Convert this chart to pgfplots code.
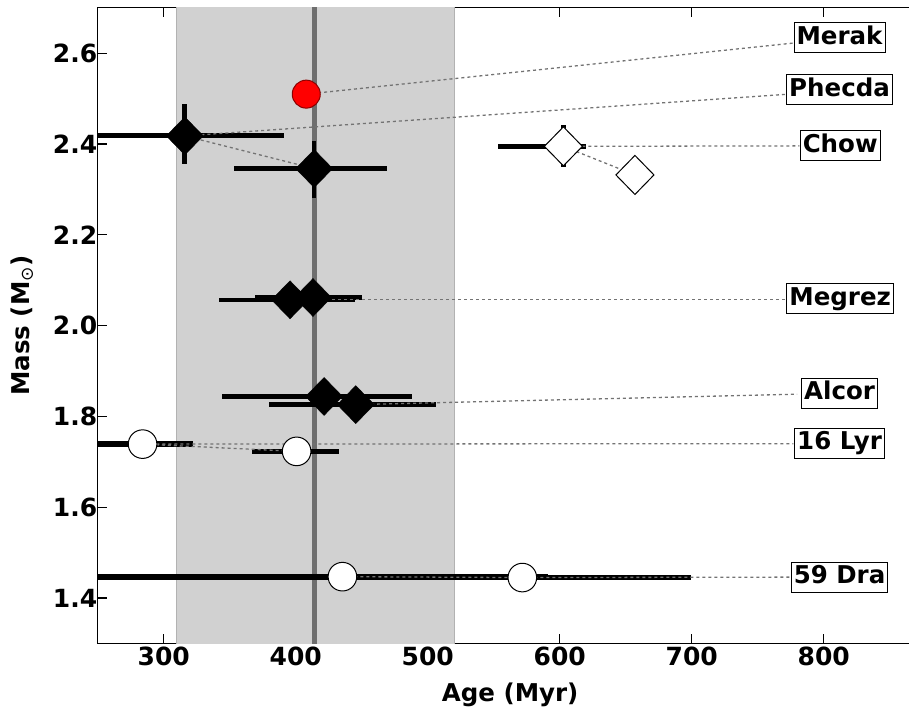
\documentclass[border=0pt]{standalone}
\usepackage{fontspec}
\setmainfont{DejaVu Sans}
\newfontfamily\djv{DejaVu Sans}
\usepackage{pgfplots}
\pgfplotsset{compat=1.18}
\pgfplotsset{
  xe/.style={only marks, mark=none, black, error bars/.cd, x dir=both, x explicit, error mark=none, error bar style={line width=#1, black, solid}},
  xye/.style={only marks, mark=none, black, error bars/.cd, x dir=both, x explicit, y dir=both, y explicit, error mark=none, error bar style={line width=#1, black, solid}},
  conn/.style={black!55, line width=1.3pt, dash pattern=on 3pt off 3pt},
}
\tikzset{
  lbl/.style={draw=black, line width=1pt, fill=white, font=\bfseries\fontsize{24.5}{24.5}\selectfont, inner xsep=2.5pt, inner ysep=3pt, text height=18.5pt, text depth=5.5pt},
}
\begin{document}
\begin{tikzpicture}
\begin{axis}[name=ax, scale only axis, width=825pt, height=635.5pt,
  xmin=250, xmax=875, ymin=1.3, ymax=2.7,
  xtick={300,400,500,600,700,800},
  ytick={1.4,1.6,1.8,2.0,2.2,2.4,2.6},
  tick align=inside, major tick length=9pt,
  axis line style={line width=1.2pt},
  every tick/.style={black, line width=1.2pt},
  /pgf/number format/assume math mode=true,
  ticklabel style={font=\bfseries\fontsize{25}{25}\selectfont},
  yticklabel style={xshift=3pt, /pgf/number format/.cd, fixed, fixed zerofill, precision=1},
  label style={font=\bfseries\fontsize{24.5}{24.5}\selectfont},
  xlabel={Age (Myr)},
  ylabel={Mass (M\textsubscript{\djv\mdseries ⊙})},
  xlabel style={at={(axis description cs:0.5,-0.092)}, anchor=base},
  ylabel style={at={(axis description cs:-0.0921,0.5)}, anchor=center},
]
% shaded band and vertical line
\addplot[fill=black!18, draw=black!30, line width=1pt] coordinates {(310,1.2) (520,1.2) (520,2.8) (310,2.8) (310,1.2)};
\addplot[black!57, line width=5.7pt] coordinates {(414.3,1.2) (414.3,2.8)};

% error bars
\addplot[xye=5pt] coordinates {(316,2.418) += (75,0.07) -= (75,0.062)};
\addplot[xye=4.5pt] coordinates {(414,2.346) += (55,0.06) -= (61,0.064)};
\addplot[xye=5.5pt] coordinates {(602.8,2.395) += (17,0.047) -= (49.3,0.045)};
\addplot[xe=4.5pt] coordinates {(395.7,2.057) += (49.5,0) -= (53.5,0)};
\addplot[xe=4.5pt] coordinates {(413.1,2.062) += (37.4,0) -= (44.3,0)};
\addplot[xe=5.5pt] coordinates {(421.5,1.844) += (66.6,0) -= (77,0)};
\addplot[xe=5.5pt] coordinates {(445.5,1.826) += (60.5,0) -= (66,0)};
\addplot[xe=5.5pt] coordinates {(284,1.739) += (38,0) -= (38,0)};
\addplot[xe=5pt] coordinates {(400.7,1.723) += (32.3,0) -= (34,0)};
\addplot[xe=6pt] coordinates {(435.4,1.447) += (156,0) -= (200,0)};
\addplot[xe=4.5pt] coordinates {(571.7,1.445) += (128,0) -= (128,0)};

% connector lines
\addplot[conn] coordinates {(408,2.51) (778.6,2.623)};
\addplot[conn] coordinates {(414,2.346) (316,2.418) (773.7,2.510)};
\addplot[conn] coordinates {(657,2.332) (602.8,2.395) (781.6,2.396)};
\addplot[conn] coordinates {(395.7,2.057) (771.7,2.057)};
\addplot[conn] coordinates {(421.5,1.844) (445.5,1.826) (779.9,1.849)};
\addplot[conn] coordinates {(400.7,1.723) (284,1.739) (777,1.740)};
\addplot[conn] coordinates {(435.4,1.447) (571.7,1.445) (775,1.446)};

% markers
\addplot[only marks, mark=*, mark size=14pt, mark options={fill=red, draw=red!55!black, line width=1pt}] coordinates {(408,2.51)};
\addplot[only marks, mark=diamond*, mark size=19pt, mark options={xscale=1.3, fill=black, draw=black}] coordinates {(316,2.418) (414,2.346) (395.7,2.057) (413.1,2.062) (421.5,1.844) (445.5,1.826)};
\addplot[only marks, mark=diamond*, mark size=19.5pt, mark options={xscale=1.3, fill=white, draw=black, line width=1pt}] coordinates {(602.8,2.395) (657,2.332)};
\addplot[only marks, mark=*, mark size=14.3pt, mark options={fill=white, draw=black, line width=1pt}] coordinates {(284,1.739) (400.7,1.723) (435.4,1.447) (571.7,1.445)};

% labels
\node[lbl] at (axis cs:812,2.634) {Merak};
\node[lbl] at (axis cs:812,2.520) {Phecda};
\node[lbl] at (axis cs:812.5,2.396) {Chow};
\node[lbl] at (axis cs:812.5,2.059) {Megrez};
\node[lbl] at (axis cs:812,1.851) {Alcor};
\node[lbl] at (axis cs:812,1.741) {16 Lyr};
\node[lbl] at (axis cs:812,1.446) {59 Dra};
\end{axis}
\pgfresetboundingbox
\path[use as bounding box] ([xshift=-97.7pt,yshift=-65.6pt]ax.south west) rectangle ([xshift=-13.7pt,yshift=7.9pt]ax.north east);
\end{tikzpicture}
\end{document}
